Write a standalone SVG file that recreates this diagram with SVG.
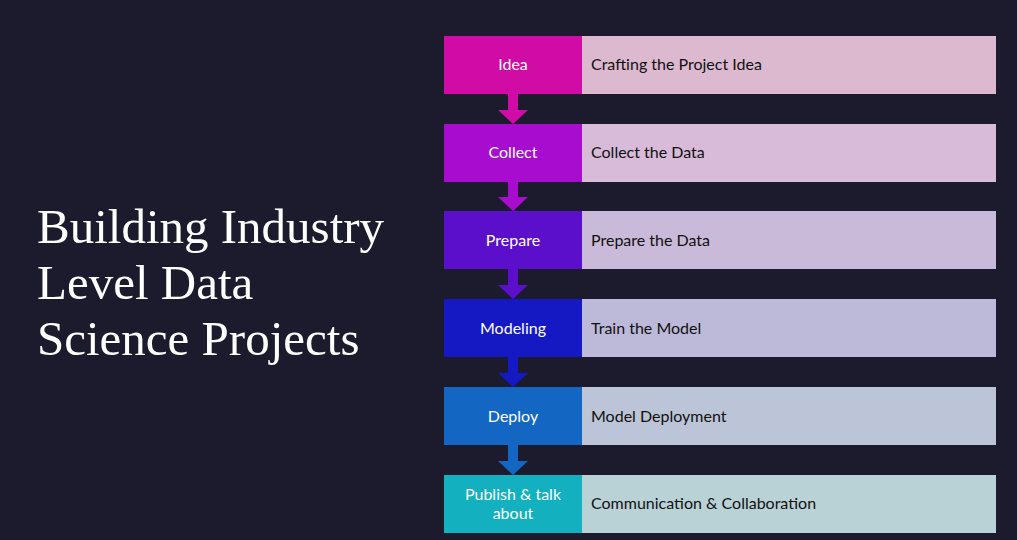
<svg xmlns="http://www.w3.org/2000/svg" width="1017" height="540" viewBox="0 0 1017 540">
<style>
.t{font-family:"Liberation Serif",serif;font-size:49px;fill:#fff}
.l{font-family:"Lato","Liberation Sans",sans-serif;font-size:16px;fill:#fff;text-anchor:middle}
.r{font-family:"Lato","Liberation Sans",sans-serif;font-size:16px;fill:#111}
</style>
<rect width="1017" height="540" fill="#1C1B2E"/>
<g id="title"><text class="t" x="37" y="243">Building Industry</text><text class="t" x="37" y="299">Level Data</text><text class="t" x="37" y="355">Science Projects</text></g>
<g id="connectors">
<path d="M508 94h10v16h10l-15 14-15-14h10z" fill="#D10CA6"/>
<path d="M508 182h10v15h10l-15 14-15-14h10z" fill="#A80DCF"/>
<path d="M508 269h10v16h10l-15 14-15-14h10z" fill="#5B0FCB"/>
<path d="M508 357h10v16h10l-15 14-15-14h10z" fill="#1419C4"/>
<path d="M508 445h10v16h10l-15 14-15-14h10z" fill="#1366C2"/>
</g>
<g id="n1"><rect x="444" y="36" width="138" height="58" fill="#D10CA6"/><rect x="582" y="36" width="414" height="58" fill="#DDB9CF"/><text class="l" x="513" y="70">Idea</text><text class="r" x="591" y="70">Crafting the Project Idea</text></g>
<g id="n2"><rect x="444" y="124" width="138" height="58" fill="#A80DCF"/><rect x="582" y="124" width="414" height="58" fill="#D8BAD9"/><text class="l" x="513" y="158">Collect</text><text class="r" x="591" y="158">Collect the Data</text></g>
<g id="n3"><rect x="444" y="211" width="138" height="58" fill="#5B0FCB"/><rect x="582" y="211" width="414" height="58" fill="#C9BAD9"/><text class="l" x="513" y="246">Prepare</text><text class="r" x="591" y="246">Prepare the Data</text></g>
<g id="n4"><rect x="444" y="299" width="138" height="58" fill="#1419C4"/><rect x="582" y="299" width="414" height="58" fill="#BDBAD9"/><text class="l" x="513" y="334">Modeling</text><text class="r" x="591" y="334">Train the Model</text></g>
<g id="n5"><rect x="444" y="387" width="138" height="58" fill="#1366C2"/><rect x="582" y="387" width="414" height="58" fill="#BCC4D7"/><text class="l" x="513" y="422">Deploy</text><text class="r" x="591" y="422">Model Deployment</text></g>
<g id="n6"><rect x="444" y="475" width="138" height="58" fill="#13B0BF"/><rect x="582" y="475" width="414" height="58" fill="#B9D2D6"/><text class="l" x="513" y="500">Publish &amp; talk</text><text class="l" x="513" y="519">about</text><text class="r" x="591" y="509">Communication &amp; Collaboration</text></g>
</svg>
